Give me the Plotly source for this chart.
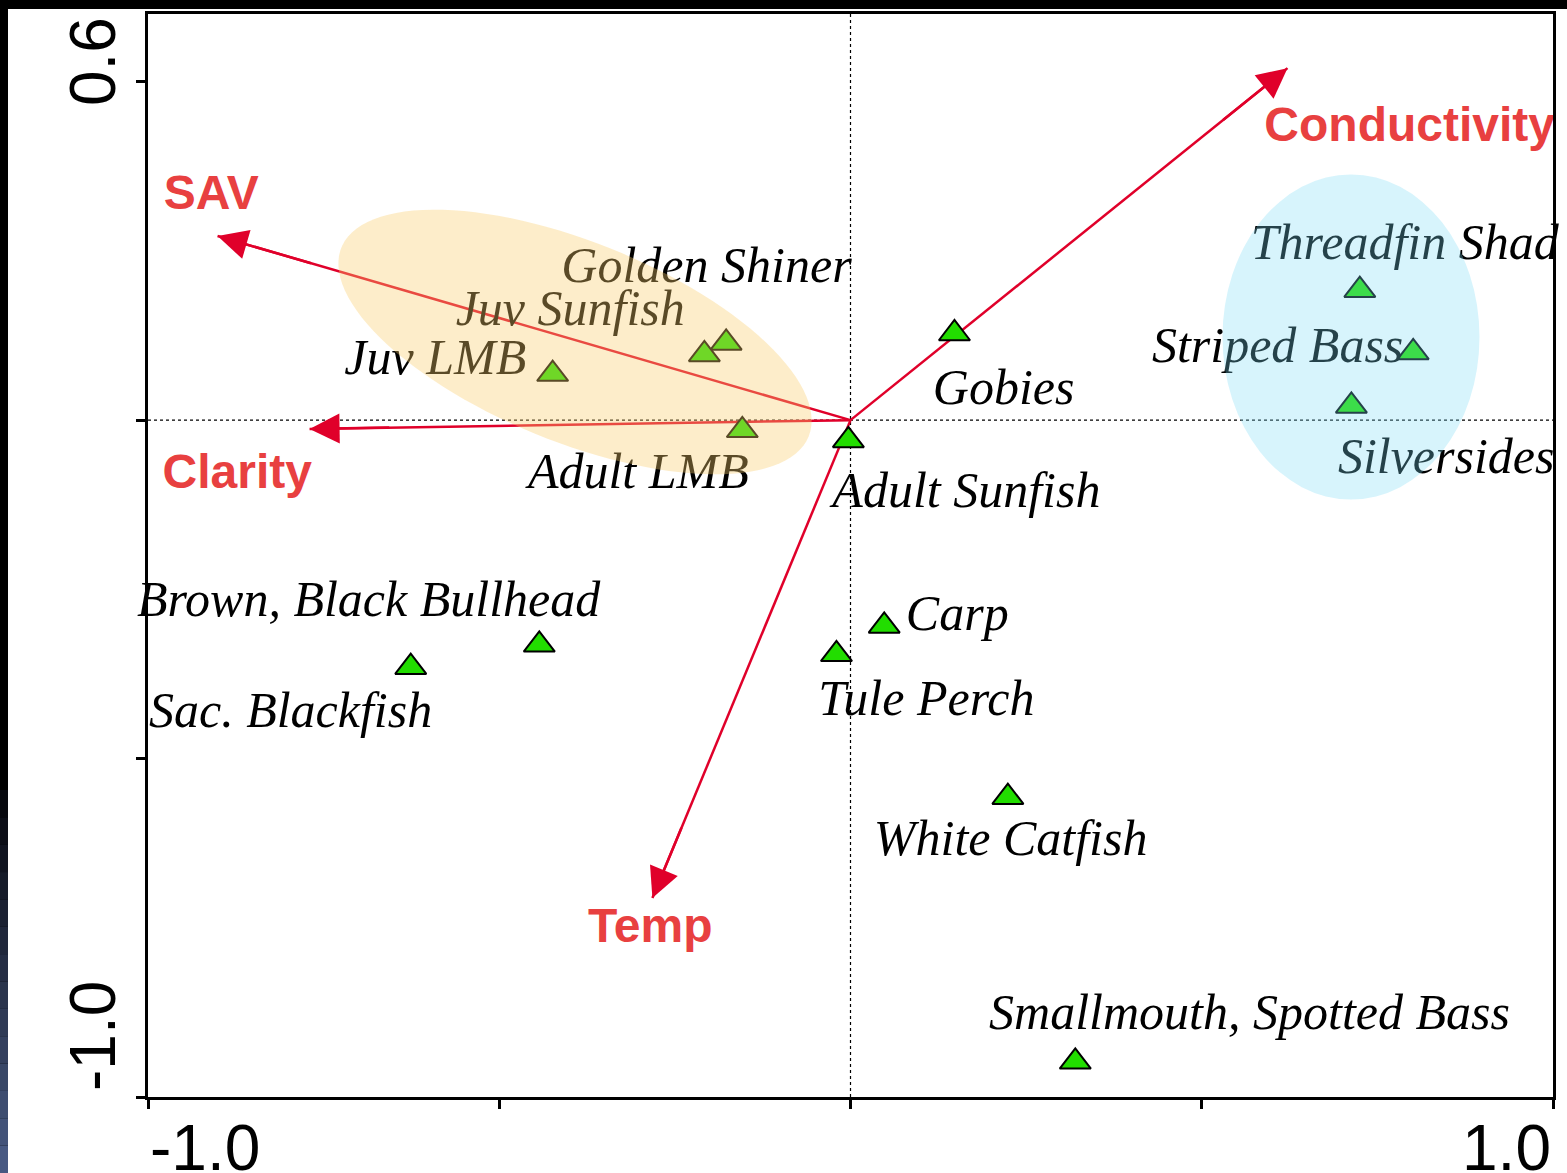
import numpy as np
import plotly.graph_objects as go

# ---------------- data ----------------
species = ["Threadfin Shad", "Striped Bass", "Silversides", "Gobies", "Adult Sunfish",
           "Golden Shiner", "Juv Sunfish", "Juv LMB", "Adult LMB",
           "Brown, Black Bullhead", "Sac. Blackfish", "Carp", "Tule Perch",
           "White Catfish", "Smallmouth, Spotted Bass"]
species_x = [0.725, 0.801, 0.713, 0.148, -0.003, -0.177, -0.208, -0.424, -0.154,
             -0.443, -0.626, 0.048, -0.020, 0.224, 0.320]
species_y = [0.192, 0.100, 0.021, 0.128, -0.030, 0.114, 0.097, 0.068, -0.015,
             -0.332, -0.365, -0.304, -0.346, -0.557, -0.948]

label_x = [0.789, 0.608, 0.848, 0.218, 0.165, -0.205, -0.399, -0.591, -0.302,
           -0.686, -0.797, 0.152, 0.108, 0.228, 0.568]
label_y = [0.256, 0.104, -0.060, 0.042, -0.110, 0.222, 0.159, 0.087, -0.082,
           -0.271, -0.435, -0.292, -0.417, -0.624, -0.881]

env_vars = ["SAV", "Clarity", "Conductivity", "Temp"]
env_x = [-0.901, -0.770, 0.622, -0.282]
env_y = [0.272, -0.013, 0.520, -0.706]
env_label_x = [-0.910, -0.873, 0.796, -0.285]
env_label_y = [0.330, -0.083, 0.430, -0.753]

x_range = [-1.0, 1.0]
y_range = [-1.0, 0.6]
x_ticks = [-1.0, -0.5, 0.0, 0.5, 1.0]
y_ticks = [-1.0, -0.5, 0.0, 0.5]

# ---------------- layout geometry ----------------
W, H = 1567, 1173
ML, MR, MT, MB = 148, 14, 14, 76
PW, PH = W - ML - MR, H - MT - MB
SX = PW / (x_range[1] - x_range[0])
SY = PH / (y_range[1] - y_range[0])


def pxx(px):
    return (px - ML) / PW


def pxy(py):
    return (H - MB - py) / PH


ARROW = "#e0002a"
LABEL_RED = "#e84040"
GREEN = "#22dd00"
SERIF = "Liberation Serif, Times New Roman, serif"
SANS = "Liberation Sans, Arial, sans-serif"

fig = go.Figure()

# arrow shafts
for vx, vy in zip(env_x, env_y):
    fig.add_trace(go.Scatter(x=[0, vx], y=[0, vy], mode="lines",
                             line=dict(color=ARROW, width=2.5),
                             hoverinfo="skip", showlegend=False))

# species markers
fig.add_trace(go.Scatter(x=species_x, y=species_y, mode="markers",
                         marker=dict(symbol="triangle-up", size=27, color=GREEN,
                                     line=dict(color="black", width=2)),
                         hoverinfo="skip", showlegend=False))

# species labels
fig.add_trace(go.Scatter(x=label_x, y=label_y, mode="text",
                         text=["<i>" + s + "</i>" for s in species],
                         textposition="middle center",
                         textfont=dict(family=SERIF, size=50, color="black"),
                         cliponaxis=False, hoverinfo="skip", showlegend=False))

# env labels
fig.add_trace(go.Scatter(x=env_label_x, y=env_label_y, mode="text",
                         text=["<b>" + s + "</b>" for s in env_vars],
                         textposition="middle center",
                         textfont=dict(family=SANS, size=48, color=LABEL_RED),
                         cliponaxis=False, hoverinfo="skip", showlegend=False))

annotations = []
# arrow heads
for vx, vy in zip(env_x, env_y):
    annotations.append(dict(x=vx, y=vy, ax=vx * 0.85, ay=vy * 0.85,
                            xref="x", yref="y", axref="x", ayref="y",
                            text="", showarrow=True, arrowhead=2, arrowsize=2.4,
                            arrowwidth=2.5, arrowcolor=ARROW, standoff=0))

# axis end labels
annotations += [
    dict(x=pxx(93), y=pxy(62), xref="paper", yref="paper", text="0.6",
         textangle=-90, showarrow=False, xanchor="center", yanchor="middle",
         font=dict(family=SANS, size=64, color="black")),
    dict(x=pxx(93), y=pxy(1036), xref="paper", yref="paper", text="-1.0",
         textangle=-90, showarrow=False, xanchor="center", yanchor="middle",
         font=dict(family=SANS, size=64, color="black")),
    dict(x=pxx(148), y=pxy(1148), xref="paper", yref="paper", text="-1.0",
         showarrow=False, xanchor="left", yanchor="middle",
         font=dict(family=SANS, size=64, color="black")),
    dict(x=pxx(1553), y=pxy(1148), xref="paper", yref="paper", text="1.0",
         showarrow=False, xanchor="right", yanchor="middle",
         font=dict(family=SANS, size=64, color="black")),
]

shapes = []
# dotted zero lines
shapes.append(dict(type="line", xref="x", yref="y", x0=x_range[0], x1=x_range[1], y0=0, y1=0,
                   line=dict(color="black", width=1.2, dash="dot"), layer="below"))
shapes.append(dict(type="line", xref="x", yref="y", x0=0, x1=0, y0=y_range[0], y1=y_range[1],
                   line=dict(color="black", width=1.2, dash="dot"), layer="below"))

# orange group ellipse (rotated), defined in pixel units then mapped to data
ocx, ocy = (575 - ML) / SX + x_range[0], y_range[1] - (342 - MT) / SY
oa, ob, oth = 252.0, 100.0, np.deg2rad(22)
t = np.linspace(0, 2 * np.pi, 120)
ex = ocx + (oa * np.cos(t) * np.cos(oth) - ob * np.sin(t) * np.sin(oth)) / SX
ey = ocy - (oa * np.cos(t) * np.sin(oth) + ob * np.sin(t) * np.cos(oth)) / SY
path = "M " + " L ".join(f"{a:.5f},{b:.5f}" for a, b in zip(ex, ey)) + " Z"
shapes.append(dict(type="path", xref="x", yref="y", path=path,
                   fillcolor="rgb(249,204,109)", opacity=0.36, line=dict(width=0),
                   layer="above"))

# blue group ellipse
bcx, bcy = (1351 - ML) / SX + x_range[0], y_range[1] - (337 - MT) / SY
ba, bb = 128.5 / SX, 162.5 / SY
shapes.append(dict(type="circle", xref="x", yref="y",
                   x0=bcx - ba, x1=bcx + ba, y0=bcy - bb, y1=bcy + bb,
                   fillcolor="rgb(122,218,245)", opacity=0.30, line=dict(width=0),
                   layer="above"))

# black frame strips around the picture
shapes.append(dict(type="rect", xref="paper", yref="paper",
                   x0=pxx(0), x1=pxx(W), y0=pxy(9), y1=pxy(0),
                   fillcolor="black", line=dict(width=0), layer="above"))
shapes.append(dict(type="rect", xref="paper", yref="paper",
                   x0=pxx(0), x1=pxx(8), y0=pxy(H), y1=pxy(0),
                   fillcolor="black", line=dict(width=0), layer="above"))
# bluish gradient at bottom of left strip
nb = 14
for i in range(nb):
    y0p = 790 + (H - 790) * i / nb
    y1p = 790 + (H - 790) * (i + 1) / nb
    f = (i + 0.5) / nb
    c = (int(5 + 70 * f), int(5 + 88 * f), int(10 + 125 * f))
    shapes.append(dict(type="rect", xref="paper", yref="paper",
                       x0=pxx(0), x1=pxx(8), y0=pxy(y1p), y1=pxy(y0p),
                       fillcolor=f"rgb{c}", line=dict(width=0), layer="above"))

fig.update_layout(
    width=W, height=H,
    margin=dict(l=ML, r=MR, t=MT, b=MB, pad=0),
    paper_bgcolor="white", plot_bgcolor="white",
    showlegend=False,
    annotations=annotations,
    shapes=shapes,
    xaxis=dict(range=x_range, showgrid=False, zeroline=False,
               showline=True, linecolor="black", linewidth=3, mirror=True,
               ticks="outside", tickvals=x_ticks, ticklen=9, tickwidth=2.5,
               tickcolor="black", showticklabels=False, fixedrange=True),
    yaxis=dict(range=y_range, showgrid=False, zeroline=False,
               showline=True, linecolor="black", linewidth=3, mirror=True,
               ticks="outside", tickvals=y_ticks, ticklen=9, tickwidth=2.5,
               tickcolor="black", showticklabels=False, fixedrange=True),
)

fig.write_html("out.html",
               config={"displayModeBar": False},
               post_script="document.body.style.margin='0px';"
                           "document.body.style.overflow='hidden';")
